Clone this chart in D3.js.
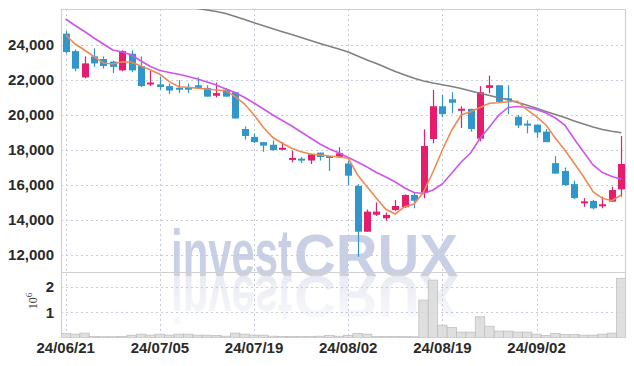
<!DOCTYPE html>
<html><head><meta charset="utf-8">
<script src="https://cdn.jsdelivr.net/npm/d3@7"></script>
<style>body{margin:0;background:#fff}svg{display:block}</style>
</head><body><svg id="c" width="634" height="366"></svg>
<script>
const dates = ["24/06/21","24/06/24","24/06/25","24/06/26","24/06/27","24/06/28",
"24/07/01","24/07/02","24/07/03","24/07/04","24/07/05","24/07/08","24/07/09","24/07/10","24/07/11","24/07/12",
"24/07/15","24/07/16","24/07/17","24/07/18","24/07/19","24/07/22","24/07/23","24/07/24","24/07/25","24/07/26",
"24/07/29","24/07/30","24/07/31","24/08/01","24/08/02","24/08/05","24/08/06","24/08/07","24/08/08","24/08/09",
"24/08/12","24/08/13","24/08/14","24/08/16","24/08/19","24/08/20","24/08/21","24/08/22","24/08/23",
"24/08/26","24/08/27","24/08/28","24/08/29","24/08/30","24/09/02","24/09/03","24/09/04","24/09/05","24/09/06",
"24/09/09","24/09/10","24/09/11","24/09/12","24/09/13"];
const open  = [24650,23650,22150,23350,23200,23050,22550,23500,22800,21700,21750,21650,21500,21500,21700,21550,21100,21450,21300,19200,18750,18450,18300,18000,17410,17450,17400,17850,17600,17580,17230,15950,13330,14300,14100,14570,14730,15430,15560,18630,20500,20900,20200,20350,18650,21550,21700,20900,19900,19450,19450,19050,17250,16800,16050,14900,15090,14730,15050,15750];
const high  = [24800,23750,23350,23800,23350,23100,23700,23700,23350,22550,22200,21800,22000,21800,22150,21700,21850,21550,21300,19350,18950,18450,18550,18450,17950,17600,17800,17850,17600,18150,17370,16050,14600,15000,14420,15140,15460,15540,19180,21430,21150,21300,20500,20350,21650,22250,21700,21700,20000,19700,19450,19200,17650,17000,16250,15250,15150,15330,15900,18800];
const low   = [23500,22500,22100,22750,22650,22400,22500,22450,21600,21650,21450,21200,21250,21250,21500,21050,21000,21050,19800,18600,18400,17900,17950,18000,17300,17250,17200,17400,16800,17550,16000,11900,13330,14230,13960,14510,14690,14670,15240,18380,19870,20100,19250,19050,18500,21250,20750,20050,19250,18950,18700,18450,16650,15950,15200,14750,14600,14670,15030,15330];
const close = [23600,22650,22950,22950,22800,22750,23650,22550,21650,21800,21600,21400,21450,21450,21550,21050,21250,21050,19800,18800,18450,18250,18000,18070,17490,17350,17750,17600,17550,17810,16530,13330,14480,14480,14290,14800,15430,15100,18230,20500,20050,20700,20300,19200,21300,21700,20750,20800,19400,19400,19000,18450,16650,16000,15250,15010,14670,14840,15710,17200];
const volume = [180000,150000,190000,60000,50000,50000,60000,110000,150000,110000,150000,110000,150000,150000,110000,110000,100000,70000,190000,150000,110000,110000,70000,60000,60000,60000,60000,70000,100000,70000,100000,180000,150000,60000,60000,60000,60000,50000,1480000,2260000,500000,410000,230000,230000,830000,460000,270000,270000,230000,230000,150000,100000,180000,140000,140000,110000,110000,150000,190000,2330000];
const ma5 = [24571,24057,23714,23331,22971,22914,23046,23011,22800,22571,22326,21903,21617,21583,21526,21486,21429,21389,21046,20629,20000,19286,18714,18383,18097,17903,17771,17714,17657,17617,17526,16571,15903,15240,14611,14343,14760,14914,15600,16743,18000,19143,20000,20189,20429,20669,20703,20760,20783,20286,19903,19429,18669,18000,17240,16474,15617,15240,15103,15429];
const ma20 = [25486,25114,24771,24400,24057,23714,23600,23429,23086,22771,22543,22429,22326,22200,22057,21886,21714,21486,21286,21000,20686,20343,20000,19686,19371,19029,18686,18343,18057,17846,17571,17314,17029,16714,16457,16171,15829,15571,15514,15714,16057,16686,17314,17829,18669,19314,20000,20429,20486,20429,20314,20114,19829,19429,18629,17886,17143,16714,16486,16326];
const ma120 = [26450,26480,26510,26530,26540,26540,26530,26510,26480,26440,26390,26330,26260,26180,26086,26000,25914,25800,25629,25457,25274,25103,24931,24760,24600,24429,24257,24086,23926,23771,23600,23371,23143,22943,22714,22486,22286,22097,21943,21829,21726,21629,21514,21371,21240,21114,20983,20869,20714,20554,20383,20200,20029,19857,19657,19486,19314,19171,19069,18989];
const priceTicks = [12000,14000,16000,18000,20000,22000,24000];
const volTicks = [1000000,2000000];
const dateTicks = ["24/06/21","24/07/05","24/07/19","24/08/02","24/08/19","24/09/02"];

const UP = "#e61c6c", DOWN = "#3197ca";
const L = 61, R = 626, T = 9, PB = 272, VB = 338;
const svg = d3.select("#c");
const x = d3.scaleBand().domain(dates).range([L, R]);
const cx = d => x(d) + x.bandwidth() / 2;
const y = d3.scaleLinear().domain([12000, 24000]).range([255, 45]);
const yv = d3.scaleLinear().domain([0, 2000000]).range([VB, 286.8]);

const defs = svg.append("defs");
defs.append("clipPath").attr("id", "clipP").append("rect").attr("x", L).attr("y", T).attr("width", R - L).attr("height", PB - T);
defs.append("clipPath").attr("id", "clipV").append("rect").attr("x", L).attr("y", PB).attr("width", R - L).attr("height", VB - PB);
const grad = defs.append("linearGradient").attr("id", "refl").attr("x1", 0).attr("y1", 0).attr("x2", 0).attr("y2", 1);
grad.append("stop").attr("offset", 0).attr("stop-color", "#e6e8f0").attr("stop-opacity", 0.15);
grad.append("stop").attr("offset", 1).attr("stop-color", "#e0e3ee").attr("stop-opacity", 0.9);

// watermark (with mirrored reflection)
function watermark(g, fill) {
  g.append("text").attr("x", 171).attr("y", 276).attr("textLength", 121).attr("lengthAdjust", "spacingAndGlyphs")
    .attr("font-family", "Liberation Sans, Arial, sans-serif").attr("font-weight", "bold").attr("font-size", 66)
    .attr("fill", fill).text("invest");
  g.append("text").attr("x", 294).attr("y", 276).attr("textLength", 164).attr("lengthAdjust", "spacingAndGlyphs")
    .attr("font-family", "Liberation Sans, Arial, sans-serif").attr("font-weight", "bold").attr("font-size", 60)
    .attr("fill", fill).text("CRUX");
}
watermark(svg.append("g"), "#c9cfe5");
watermark(svg.append("g").attr("transform", "translate(0,552) scale(1,-1)"), "url(#refl)");

// grid
const grid = svg.append("g").attr("stroke", "#c5c9dc").attr("stroke-dasharray", "2,3").attr("stroke-width", 1);
grid.selectAll("line.h").data(priceTicks).join("line")
  .attr("x1", L).attr("x2", R).attr("y1", d => Math.round(y(d)) + 0.5).attr("y2", d => Math.round(y(d)) + 0.5);
grid.selectAll("line.hv").data(volTicks).join("line")
  .attr("x1", L).attr("x2", R).attr("y1", d => Math.round(yv(d)) + 0.5).attr("y2", d => Math.round(yv(d)) + 0.5);
grid.selectAll("line.v").data(dateTicks).join("line")
  .attr("x1", d => Math.round(cx(d)) + 0.5).attr("x2", d => Math.round(cx(d)) + 0.5).attr("y1", T).attr("y2", VB);

// frame
const fr = svg.append("g").attr("stroke", "#cfcfcf").attr("stroke-width", 1.2).attr("fill", "none");
fr.append("line").attr("x1", L).attr("x2", R).attr("y1", T + 0.5).attr("y2", T + 0.5);
fr.append("line").attr("x1", L).attr("x2", R).attr("y1", PB + 0.5).attr("y2", PB + 0.5);
fr.append("line").attr("x1", L).attr("x2", R).attr("y1", VB - 0.5).attr("y2", VB - 0.5).attr("stroke", "#e2e2e2");
fr.append("line").attr("x1", L + 0.5).attr("x2", L + 0.5).attr("y1", T).attr("y2", VB);
fr.append("line").attr("x1", R - 0.5).attr("x2", R - 0.5).attr("y1", T).attr("y2", VB);

// volume
const data = dates.map((d, i) => ({ d, o: open[i], h: high[i], l: low[i], c: close[i], v: volume[i] }));
svg.append("g").attr("clip-path", "url(#clipV)").selectAll("rect").data(data).join("rect")
  .attr("x", d => x(d.d)).attr("width", x.bandwidth())
  .attr("y", d => yv(d.v)).attr("height", d => yv(0) - yv(d.v))
  .attr("fill", "#d9d9d9").attr("fill-opacity", 0.85).attr("stroke", "#c0c0c0").attr("stroke-width", 0.8);

// candles
const gc = svg.append("g").attr("clip-path", "url(#clipP)");
gc.selectAll("line").data(data).join("line")
  .attr("x1", d => Math.round(cx(d.d)) + 0.5).attr("x2", d => Math.round(cx(d.d)) + 0.5)
  .attr("y1", d => y(d.h)).attr("y2", d => y(d.l))
  .attr("stroke", d => d.c >= d.o ? UP : DOWN).attr("stroke-width", 1.2);
gc.selectAll("rect").data(data).join("rect")
  .attr("x", d => Math.round(cx(d.d)) - 3).attr("width", 7)
  .attr("y", d => Math.min(y(d.o), y(d.c)) - (Math.abs(y(d.o) - y(d.c)) < 2 ? 1 : 0))
  .attr("height", d => Math.max(2, Math.abs(y(d.o) - y(d.c))))
  .attr("fill", d => d.c >= d.o ? UP : DOWN);

// moving averages
const line = d3.line().x((v, i) => cx(dates[i])).y(v => y(v));
const gl = svg.append("g").attr("clip-path", "url(#clipP)").attr("fill", "none").attr("stroke-width", 1.6);
gl.append("path").attr("d", line(ma120)).attr("stroke", "#808080");
gl.append("path").attr("d", line(ma20)).attr("stroke", "#cc55ee");
gl.append("path").attr("d", line(ma5)).attr("stroke", "#ef8a55");

// axes
const fontF = "Liberation Sans Narrow, Arial Narrow, sans-serif";
function styleAxis(g) {
  g.select(".domain").remove();
  g.selectAll(".tick line").remove();
  g.selectAll("text").attr("font-family", fontF).attr("font-size", 15).attr("font-weight", "bold").attr("fill", "#2a2a2a");
}
svg.append("g").attr("transform", `translate(${L},0)`)
  .call(d3.axisLeft(y).tickValues(priceTicks).tickFormat(d3.format(",")).tickSize(0).tickPadding(7)).call(styleAxis);
svg.append("g").attr("transform", `translate(${L},0)`)
  .call(d3.axisLeft(yv).tickValues(volTicks).tickFormat(d => d / 1000000).tickSize(0).tickPadding(7)).call(styleAxis);
svg.append("g").attr("transform", `translate(0,${VB})`)
  .call(d3.axisBottom(x).tickValues(dateTicks).tickSize(0).tickPadding(4)).call(styleAxis);

// 10^6 label
const ex = svg.append("text").attr("transform", "translate(37,301) rotate(-90)").attr("text-anchor", "middle")
  .attr("font-family", "Liberation Serif, serif").attr("font-size", 12).attr("fill", "#333");
ex.append("tspan").text("10");
ex.append("tspan").attr("dy", -5).attr("font-size", 9).text("6");
</script></body></html>
